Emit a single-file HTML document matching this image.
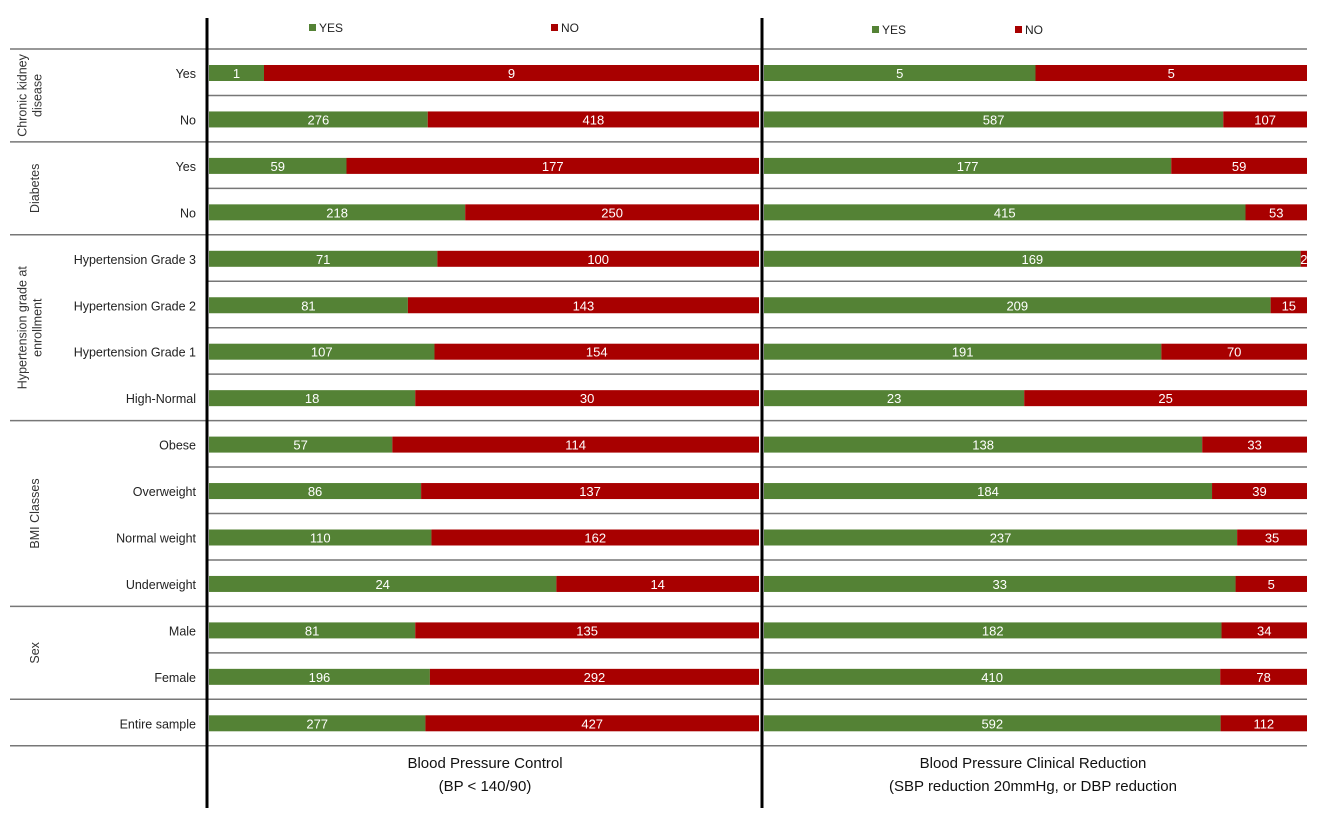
<!DOCTYPE html>
<html><head><meta charset="utf-8"><style>
body{margin:0;background:#fff;}
svg text{font-family:"Liberation Sans",Arial,sans-serif;}
</style></head><body>
<svg id="chart" width="1325" height="825">
<g id="grid"></g><g id="bars"></g><g id="labels"></g>
<line x1="207" y1="18" x2="207" y2="808" stroke="#000" stroke-width="3"/>
<line x1="762" y1="18" x2="762" y2="808" stroke="#000" stroke-width="3"/>
<g>
<rect x="309" y="24" width="7" height="7" fill="#548235"/><text x="319" y="32" font-size="12" fill="#222">YES</text>
<rect x="551" y="24" width="7" height="7" fill="#a80000"/><text x="561" y="32" font-size="12" fill="#222">NO</text></g>
<g>
<rect x="872" y="26" width="7" height="7" fill="#548235"/><text x="882" y="34" font-size="12" fill="#222">YES</text>
<rect x="1015" y="26" width="7" height="7" fill="#a80000"/><text x="1025" y="34" font-size="12" fill="#222">NO</text></g>
<text x="485" y="768" font-size="15" text-anchor="middle" fill="#111">Blood Pressure Control</text>
<text x="485" y="791" font-size="15" text-anchor="middle" fill="#111">(BP &lt; 140/90)</text>
<text x="1033" y="768" font-size="15" text-anchor="middle" fill="#111">Blood Pressure Clinical Reduction</text>
<text x="1033" y="791" font-size="15" text-anchor="middle" fill="#111">(SBP reduction 20mmHg, or DBP reduction</text>
</svg>
<script>
const categories=["Yes","No","Yes","No","Hypertension Grade 3","Hypertension Grade 2","Hypertension Grade 1","High-Normal","Obese","Overweight","Normal weight","Underweight","Male","Female","Entire sample"];
const controlYes=[1,276,59,218,71,81,107,18,57,86,110,24,81,196,277];
const controlNo=[9,418,177,250,100,143,154,30,114,137,162,14,135,292,427];
const reductionYes=[5,587,177,415,169,209,191,23,138,184,237,33,182,410,592];
const reductionNo=[5,107,59,53,2,15,70,25,33,39,35,5,34,78,112];
const groups=[["Chronic kidney","disease"],["Diabetes"],["Hypertension grade at","enrollment"],["BMI Classes"],["Sex"],[]];
const groupSizes=[2,2,4,4,2,1];
const NS="http://www.w3.org/2000/svg";
const top0=49,rowH=46.45;
const rowY=i=>top0+rowH*i;
const G="#548235",R="#a80000";
function mk(t,a,p){const e=document.createElementNS(NS,t);for(const k in a)e.setAttribute(k,a[k]);p.appendChild(e);return e;}
const grid=document.getElementById('grid'),bars=document.getElementById('bars'),labels=document.getElementById('labels');
const bounds=[0];let acc=0;groupSizes.forEach(s=>{acc+=s;bounds.push(acc);});
for(let i=0;i<=categories.length;i++){
  const full=bounds.includes(i);
  const l=mk('line',{x1:full?10:207,x2:1307,y1:rowY(i),y2:rowY(i),stroke:'#777','stroke-width':1.5},grid);
  
  
}
function panel(x0,x1,yes,no,name){
  categories.forEach((c,i)=>{
    const tot=yes[i]+no[i],w=x1-x0,wy=w*yes[i]/tot,cy=rowY(i)+24;
    const a=mk('rect',{x:x0,y:cy-8,width:wy,height:16,fill:G},bars);
    
    
    const b=mk('rect',{x:x0+wy,y:cy-8,width:w-wy,height:16,fill:R},bars);
    
    
    const t1=mk('text',{x:x0+wy/2,y:cy+5,'font-size':13,fill:'#fff','text-anchor':'middle'},labels);t1.textContent=yes[i];
    
    
    const t2=mk('text',{x:x0+wy+(w-wy)/2,y:cy+5,'font-size':13,fill:'#fff','text-anchor':'middle'},labels);t2.textContent=no[i];
    
    
  });
}
panel(209,759,controlYes,controlNo,'control');
panel(764,1307,reductionYes,reductionNo,'reduction');
categories.forEach((c,i)=>{
  const t=mk('text',{x:196,y:rowY(i)+29,'font-size':12.5,fill:'#222','text-anchor':'end'},labels);t.textContent=c;
  
  
});
groups.forEach((g,k)=>{
  if(!g.length)return;
  const cy=(rowY(bounds[k])+rowY(bounds[k+1]))/2;
  const cx=g.length>1?30:35;
  const t=mk('text',{transform:`translate(${cx},${cy}) rotate(-90)`,'font-size':12.5,fill:'#333','text-anchor':'middle'},labels);
  
  
  g.forEach((ln,j)=>{const s=mk('tspan',{x:0,dy:j?15:-(g.length-1)*7.5+4},t);s.textContent=ln;});
});
</script>
</body></html>
